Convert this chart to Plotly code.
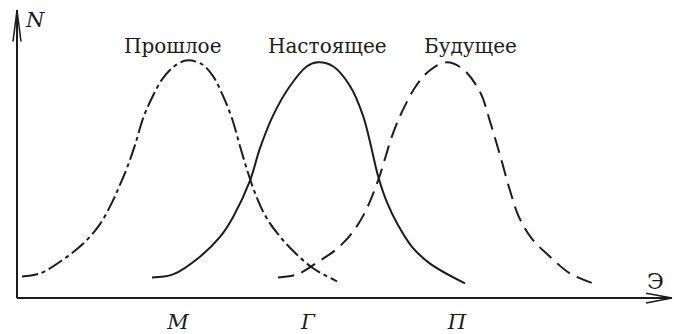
import plotly.graph_objects as go

# Curve data (x: energy axis Э, y: number N)
past_x = [5, 23, 46, 66, 83, 96, 103, 110, 118, 126, 135, 146, 160, 171, 185, 196, 206, 215, 223, 231, 239, 248, 260, 276, 295, 320]
past_y = [22, 25, 39, 55, 75, 99, 115, 132, 155, 182, 203, 223, 237, 241, 237, 225, 205, 182, 154, 127, 104, 84, 66, 48, 31, 17]

present_x = [135, 156, 183, 203, 216, 233, 243, 256, 273, 290, 301, 316, 333, 346, 354, 361, 370, 381, 395, 413, 448]
present_y = [21, 24, 42, 62, 82, 119, 152, 185, 215, 235, 239, 235, 215, 185, 154, 124, 97, 74, 52, 35, 15]

future_x = [261, 280, 303, 320, 335, 348, 361, 376, 387, 399, 413, 430, 446, 463, 473, 483, 493, 502, 515, 533, 553, 576]
future_y = [21, 24, 38, 50, 66, 87, 119, 167, 193, 215, 231, 239, 232, 209, 179, 145, 109, 82, 60, 42, 25, 15]

series_names = ["Прошлое", "Настоящее", "Будущее"]
label_x = [155, 310, 453]
label_y = [256, 256, 256]

tick_vals = [161, 291, 440]
tick_text = ["M", "Г", "П"]

x_end = 655
y_end = 292

INK = "#1c1c1c"
SERIF = "DejaVu Serif, Liberation Serif, serif"

fig = go.Figure()
fig.add_trace(go.Scatter(x=past_x, y=past_y, mode="lines", line=dict(color=INK, width=2, shape="spline", smoothing=1.0, dash="16px,4px,4px,4px"), name=series_names[0], hoverinfo="skip"))
fig.add_trace(go.Scatter(x=present_x, y=present_y, mode="lines", line=dict(color=INK, width=2, shape="spline", smoothing=1.0), name=series_names[1], hoverinfo="skip"))
fig.add_trace(go.Scatter(x=future_x, y=future_y, mode="lines", line=dict(color=INK, width=2, shape="spline", smoothing=1.0, dash="16px,8px"), name=series_names[2], hoverinfo="skip"))

shapes = [
    dict(type="line", x0=0, y0=0, x1=x_end, y1=0, line=dict(color=INK, width=2)),
    dict(type="line", x0=0, y0=0, x1=0, y1=y_end, line=dict(color=INK, width=2)),
    # arrow heads
    dict(type="line", x0=x_end, y0=0, x1=x_end - 26, y1=5, line=dict(color=INK, width=1.5)),
    dict(type="line", x0=x_end, y0=0, x1=x_end - 26, y1=-5, line=dict(color=INK, width=1.5)),
    dict(type="line", x0=0, y0=y_end, x1=-4, y1=y_end - 32, line=dict(color=INK, width=1.5)),
    dict(type="line", x0=0, y0=y_end, x1=4, y1=y_end - 32, line=dict(color=INK, width=1.5)),
]

annotations = []
for name, lx, ly in zip(series_names, label_x, label_y):
    annotations.append(dict(x=lx, y=ly, text=name, showarrow=False, xanchor="center", yanchor="middle",
                            font=dict(family=SERIF, size=20, color=INK)))
annotations.append(dict(x=18, y=282, text="N", showarrow=False, xanchor="center", yanchor="middle",
                        font=dict(family=SERIF, size=21, color=INK, style="italic")))
annotations.append(dict(x=638, y=17, text="Э", showarrow=False, xanchor="center", yanchor="middle",
                        font=dict(family=SERIF, size=22, color=INK)))

fig.update_layout(
    width=674, height=334,
    margin=dict(l=7, r=0, t=10, b=24),
    paper_bgcolor="white", plot_bgcolor="white",
    showlegend=False,
    shapes=shapes,
    annotations=annotations,
    xaxis=dict(range=[-10, 657], showgrid=False, zeroline=False, showline=False,
               tickvals=tick_vals, ticktext=tick_text, ticks="",
               tickfont=dict(family=SERIF, size=21, color=INK, style="italic"),
               ticklabelstandoff=1, fixedrange=True),
    yaxis=dict(range=[-8, 292], showgrid=False, zeroline=False, showline=False,
               showticklabels=False, ticks="", fixedrange=True),
)

fig.write_html("out.html", config={"displayModeBar": False},
               post_script="document.body.style.margin='0';document.body.style.overflow='hidden';")
